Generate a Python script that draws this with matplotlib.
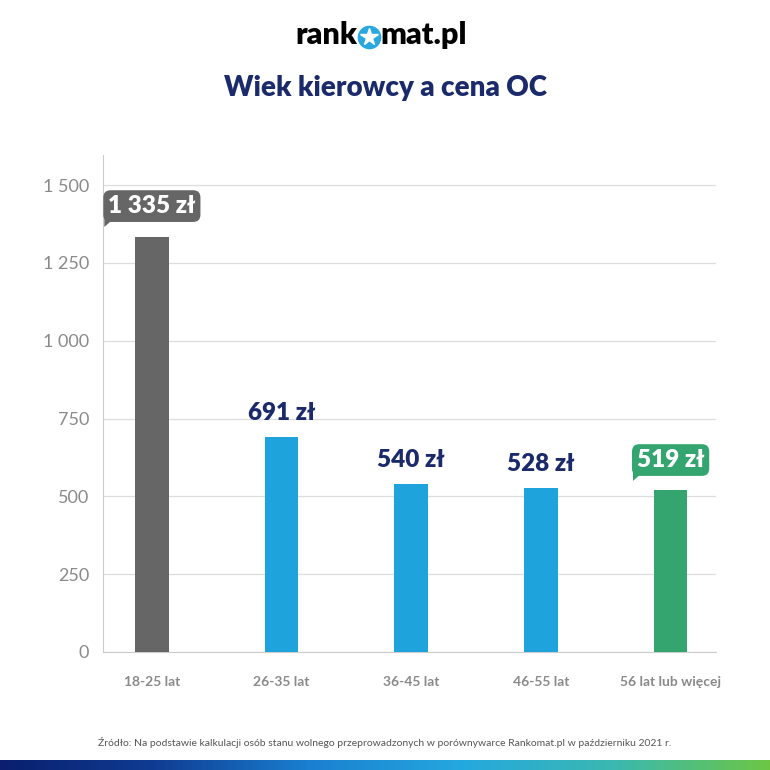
import matplotlib.pyplot as plt
import numpy as np
from matplotlib.colors import LinearSegmentedColormap
from matplotlib.patches import Polygon

# Data
categories = ['18-25 lat', '26-35 lat', '36-45 lat', '46-55 lat', '56 lat lub więcej']
prices = [1335, 691, 540, 528, 519]
labels = ['1 335 zł', '691 zł', '540 zł', '528 zł', '519 zł']
yticks = [0, 250, 500, 750, 1000, 1250, 1500]
ytick_labels = ['0', '250', '500', '750', '1 000', '1 250', '1 500']

bar_colors = ['#666666', '#1fa3dc', '#1fa3dc', '#1fa3dc', '#34a56f']
boxed = [True, False, False, False, True]
navy = '#1b2a6b'
font = 'Lato'

fig = plt.figure(figsize=(7.7, 7.7), dpi=100)
ax = fig.add_axes([103 / 770, 118 / 770, 613 / 770, 497 / 770])

x = np.arange(len(categories))
ax.bar(x, prices, width=0.26, color=bar_colors, zorder=3)

ax.set_xlim(-0.377, 4.35)
ax.set_ylim(0, 1597)
ax.set_yticks(yticks)
ax.set_yticklabels(ytick_labels, fontsize=13, color='#8a8a8a', family=font)
ax.set_xticks(x)
ax.set_xticklabels(categories, fontsize=10, color='#8a8a8a', family=font, fontweight='bold')
ax.tick_params(axis='both', length=0)
ax.tick_params(axis='x', pad=17)
ax.tick_params(axis='y', pad=10)
ax.grid(axis='y', color='#dddddd', linewidth=0.9, zorder=0)
for s in ['top', 'right']:
    ax.spines[s].set_visible(False)
ax.spines['left'].set_color('#cccccc')
ax.spines['bottom'].set_color('#cccccc')

boxes = []
for xi, v, lab, c, b in zip(x, prices, labels, bar_colors, boxed):
    if b:
        t = ax.annotate(lab, (xi, v), xytext=(0, 14), textcoords='offset points',
                        ha='center', va='bottom', fontsize=17.5, fontweight='heavy',
                        color='white', family=font,
                        bbox=dict(boxstyle='round,pad=0.2,rounding_size=0.3', fc=c, ec='none'))
        boxes.append((t, c))
    else:
        ax.annotate(lab, (xi, v), xytext=(0, 9), textcoords='offset points',
                    ha='center', va='bottom', fontsize=17.5, fontweight='heavy',
                    color=navy, family=font)

# overlay in pixel coordinates (y down) for logo mark and bubble tails
ov = fig.add_axes([0, 0, 1, 1], zorder=5)
ov.set_xlim(0, 770)
ov.set_ylim(770, 0)
ov.axis('off')

fig.canvas.draw()
for t, c in boxes:
    ext = t.get_bbox_patch().get_window_extent()
    x0, y0 = ext.x0 + 1, 770 - ext.y0 - 1
    ov.add_patch(Polygon([[x0, y0 - 6], [x0, y0 + 6], [x0 + 8, y0 - 1]], closed=True, fc=c, ec='none'))

# Logo and title
fig.text(357 / 770, 1 - 35 / 770, 'rank', ha='right', va='center', fontsize=22,
         fontweight='heavy', color='black', family=font)
fig.text(380 / 770, 1 - 35 / 770, 'mat.pl', ha='left', va='center', fontsize=22,
         fontweight='heavy', color='black', family=font)
ov.plot([368.5], [37], marker='o', ms=16, color='#29a8e0', mec='#29a8e0')
ov.plot([368.5], [37], marker='*', ms=13, color='white', mec='white')

fig.text(0.5, 1 - 88 / 770, 'Wiek kierowcy a cena OC', ha='center', va='center',
         fontsize=20, fontweight='heavy', color=navy, family=font)

# Source
fig.text(0.5, 1 - 743 / 770,
         'Źródło: Na podstawie kalkulacji osób stanu wolnego przeprowadzonych w porównywarce Rankomat.pl w październiku 2021 r.',
         ha='center', va='center', fontsize=7.5, color='#555555', family=font)

# Gradient strip at bottom
gax = fig.add_axes([0, 0, 1, 10 / 770])
cmap = LinearSegmentedColormap.from_list('strip', ['#0a1f6e', '#0f3c92', '#1a7fd0', '#25a8df', '#3bb8b0', '#6cc644'])
gax.imshow(np.linspace(0, 1, 256)[None, :], aspect='auto', cmap=cmap)
gax.axis('off')

fig.savefig('out.png', dpi=100, facecolor='white')
